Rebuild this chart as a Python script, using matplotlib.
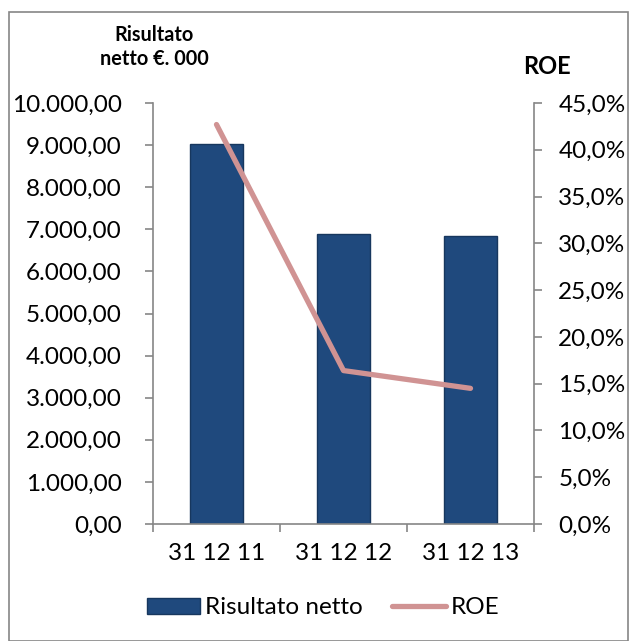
import numpy as np
import matplotlib.pyplot as plt
from matplotlib.patches import Rectangle
from matplotlib.ticker import FuncFormatter, FixedLocator

# dati
categorie = ["31 12 11", "31 12 12", "31 12 13"]
risultato_netto = [9020, 6880, 6840]   # €. 000
roe = [42.7, 16.4, 14.5]               # %

plt.rcParams['font.family'] = ['Lato', 'DejaVu Sans']

fig = plt.figure(figsize=(6.3, 6.41), dpi=100)
grigio = "#868686"
fs = 17.5

# cornice esterna
fig.patches.append(Rectangle((9/630, 0), 619/630, 629/641, transform=fig.transFigure,
                             fill=False, edgecolor=grigio, linewidth=1.2))

ax = fig.add_axes([153/630, 117/641, 381/630, 421/641])
x = np.arange(len(categorie))
barre = ax.bar(x, risultato_netto, width=0.41, color="#1F497D", edgecolor="#17375E",
               linewidth=1, label="Risultato netto", zorder=2)
ax.set_xlim(-0.5, 2.5)
ax.set_ylim(0, 10000)
ax.set_yticks(np.arange(0, 10001, 1000))
ax.yaxis.set_major_formatter(FuncFormatter(
    lambda v, p: f"{v:,.2f}".replace(",", "X").replace(".", ",").replace("X", ".")))
ax.set_xticks(x)
ax.set_xticklabels(categorie)
ax.xaxis.set_minor_locator(FixedLocator([-0.5, 0.5, 1.5, 2.5]))
ax.tick_params(axis='x', which='major', length=0, pad=14, labelsize=fs)
ax.tick_params(axis='x', which='minor', length=5.5, color=grigio, width=1.2)
ax.tick_params(axis='y', length=5.5, color=grigio, width=1.2, labelsize=fs, pad=17)
for s in ["top", "right"]:
    ax.spines[s].set_visible(False)
for s in ["left", "bottom"]:
    ax.spines[s].set_color(grigio)
    ax.spines[s].set_linewidth(1.2)

ax2 = ax.twinx()
linea, = ax2.plot(x, roe, color="#D09393", linewidth=3.8, solid_capstyle="round",
                  label="ROE", zorder=3)
ax2.set_ylim(0, 45)
ax2.set_yticks(np.arange(0, 46, 5))
ax2.yaxis.set_major_formatter(FuncFormatter(lambda v, p: f"{v:.1f}%".replace(".", ",")))
ax2.tick_params(axis='y', length=5.5, color=grigio, width=1.2, labelsize=fs, pad=12)
for s in ["top", "left", "bottom"]:
    ax2.spines[s].set_visible(False)
ax2.spines["right"].set_color(grigio)
ax2.spines["right"].set_linewidth(1.2)

# titoli assi
fig.text(154/630, 1 - 47/641, "Risultato\nnetto €. 000", ha="center", va="center",
         fontsize=14.3, fontweight="bold", linespacing=1.3)
fig.text(547/630, 1 - 66/641, "ROE", ha="center", va="center",
         fontsize=17, fontweight="bold")

fig.legend(handles=[barre, linea], loc="center", bbox_to_anchor=(323/630, 1 - 608/641),
           ncol=2, frameon=False, fontsize=fs, handlelength=2.2, handleheight=0.65,
           handletextpad=0.2, columnspacing=1.2)

fig.savefig("out.png", dpi=100)
